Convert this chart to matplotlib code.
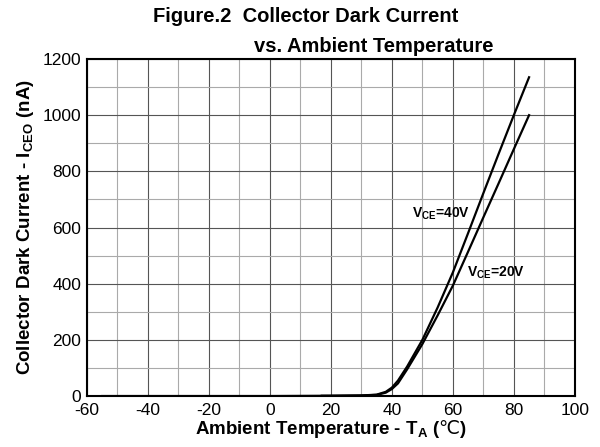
import matplotlib
matplotlib.use("Agg")
import matplotlib.pyplot as plt
from matplotlib.ticker import MultipleLocator

plt.rcParams['font.family'] = ['Liberation Sans', 'DejaVu Sans']
plt.rcParams['mathtext.fontset'] = 'custom'
plt.rcParams['mathtext.rm'] = 'Liberation Sans'
plt.rcParams['mathtext.bf'] = 'Liberation Sans:bold'
plt.rcParams['mathtext.sf'] = 'DejaVu Sans'   # used only for the ℃ sign
plt.rcParams['axes.unicode_minus'] = False

# -----------------------------
# Data
# -----------------------------
temp_20v = [-55, -40, -20, 0, 20, 30, 35, 38, 40, 42, 45, 50, 55, 60, 65, 70, 75, 80, 85]
icEO_20v = [0, 0, 0, 0, 1, 2, 4, 12, 25, 45, 95, 185, 287, 393, 514, 636, 757, 879, 1000]

temp_40v = [17, 20, 30, 35, 38, 40, 42, 45, 50, 55, 60, 65, 70, 75, 80, 85]
icEO_40v = [1, 1, 2, 5, 15, 30, 55, 105, 200, 315, 440, 580, 722, 862, 1000, 1135]

x_ticks = [-60, -40, -20, 0, 20, 40, 60, 80, 100]
y_ticks = [0, 200, 400, 600, 800, 1000, 1200]

fig = plt.figure(figsize=(6.0, 4.47), dpi=100)
ax = fig.add_axes([0.145, 0.114, 0.813, 0.754])

ax.plot(temp_20v, icEO_20v, color='black', lw=1.6)
ax.plot(temp_40v, icEO_40v, color='black', lw=1.6)

ax.set_xlim(-60, 100)
ax.set_ylim(0, 1200)
ax.set_xticks(x_ticks)
ax.set_yticks(y_ticks)
ax.xaxis.set_minor_locator(MultipleLocator(10))
ax.yaxis.set_minor_locator(MultipleLocator(100))
ax.grid(which='major', color='#555555', lw=0.8)
ax.grid(which='minor', color='#aaaaaa', lw=0.8)
ax.set_axisbelow(True)
ax.tick_params(which='both', length=0, labelsize=12.5)
ax.tick_params(axis='x', pad=5)
ax.tick_params(axis='y', pad=4)
for s in ax.spines.values():
    s.set_linewidth(1.5)
    s.set_color('black')

ax.text(46.5, 636, r'V$_{\mathbf{CE}}$=40V', fontsize=10, fontweight='bold')
ax.text(64.6, 426, r'V$_{\mathbf{CE}}$=20V', fontsize=10, fontweight='bold')

ax.set_xlabel(r'Ambient Temperature - T$_{\mathbf{A}}$ ($\mathsf{℃}$)', fontsize=13.5,
              fontweight='bold', labelpad=0)
ax.set_ylabel(r'Collector Dark Current - I$_{\mathbf{CEO}}$ (nA)', fontsize=13.5,
              fontweight='bold', labelpad=5)

fig.text(0.51, 0.962, 'Figure.2  Collector Dark Current', ha='center', va='center',
         fontsize=14.5, fontweight='bold')
fig.text(0.623, 0.895, 'vs. Ambient Temperature', ha='center', va='center',
         fontsize=14.5, fontweight='bold')

fig.savefig('out.png', dpi=100)
